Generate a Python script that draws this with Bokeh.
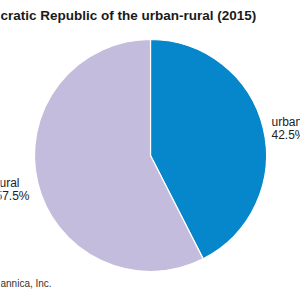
import numpy as np
from bokeh.plotting import figure
from bokeh.models import ColumnDataSource, Range1d
from bokeh.core.properties import value
from bokeh.embed import file_html
from bokeh.resources import INLINE

categories = ["urban", "rural"]
shares = [42.5, 57.5]
colors = ["#0787cb", "#c4bcdc"]
title_text = "cratic Republic of the urban-rural (2015)"
credit_text = "annica, Inc."

vals = np.array(shares)
frac = vals / vals.sum()
ends = np.pi / 2 - 2 * np.pi * np.cumsum(frac)
starts = np.concatenate([[np.pi / 2], ends[:-1]])

p = figure(width=300, height=300, output_backend="svg", toolbar_location=None,
           x_range=Range1d(0, 300), y_range=Range1d(0, 300), min_border=0)
p.axis.visible = False
p.grid.visible = False
p.outline_line_color = None
p.background_fill_color = "white"
p.border_fill_color = "white"

src = ColumnDataSource(dict(start=starts, end=ends, color=colors, cat=categories))
p.wedge(x=150, y=145, radius=116, start_angle="start", end_angle="end",
        direction="clock", fill_color="color", line_color="white", line_width=1.2,
        source=src)

p.text(x=[0], y=[285], text=[title_text], text_font=value("Liberation Sans"),
       text_font_style="bold", text_font_size="13.5px", text_color="#1a1a1a",
       text_baseline="middle", text_align="left")

lbl = ColumnDataSource(dict(
    x=[271, 271, -5, -5],
    y=[179, 166, 118, 105],
    t=[categories[0], f"{shares[0]}%", categories[1], f"{shares[1]}%"],
))
p.text(x="x", y="y", text="t", source=lbl, text_font=value("Liberation Sans"),
       text_font_size="12px", text_color="#222222", text_baseline="middle",
       text_align="left")

p.text(x=[0], y=[17], text=[credit_text], text_font=value("Liberation Sans"),
       text_font_size="10px", text_color="#333333", text_baseline="middle",
       text_align="left")

open("out.html", "w").write(file_html(p, INLINE))
